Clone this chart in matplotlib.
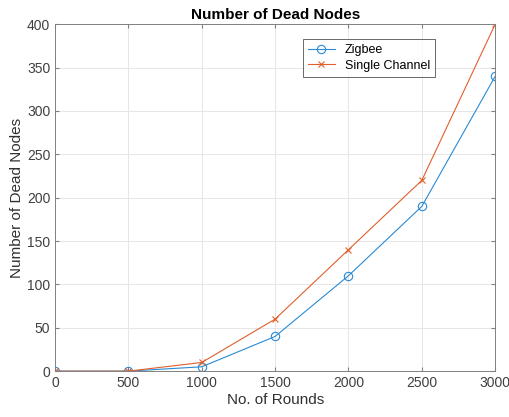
import matplotlib
matplotlib.use('Agg')
import matplotlib.pyplot as plt

rounds = [0, 500, 1000, 1500, 2000, 2500, 3000]
zigbee = [0, 0, 5, 40, 110, 190, 340]
single = [0, 0, 10, 60, 140, 220, 400]

plt.rcParams['font.family'] = ['Liberation Sans', 'DejaVu Sans']

fig = plt.figure(figsize=(5.1, 4.17), dpi=100)
ax = fig.add_axes([0.108, 0.110, 0.863, 0.832])

ax.plot(rounds, zigbee, color='#2a8ad4', lw=0.8, marker='o', ms=6,
        mfc='none', mec='#2a8ad4', mew=0.8, label='Zigbee')
ax.plot(rounds, single, color='#e0602c', lw=0.8, marker='x', ms=5,
        mew=0.8, label='Single Channel')

ax.set_xlim(0, 3000)
ax.set_ylim(0, 400)
ax.set_xticks(rounds)
ax.set_yticks(range(0, 401, 50))
ax.grid(True, color='#e6e6e6', lw=0.7)
ax.set_axisbelow(True)
ax.tick_params(direction='in', labelsize=10, colors='#808080', labelcolor='#404040',
               length=3, top=True, right=True, labeltop=False, labelright=False)
for s in ax.spines.values():
    s.set_color('#808080')
    s.set_linewidth(0.7)

ax.set_xlabel('No. of Rounds', fontsize=11, color='#303030', labelpad=2)
ax.set_ylabel('Number of Dead Nodes', fontsize=11, color='#303030', labelpad=2)
ax.set_title('Number of Dead Nodes', fontsize=11, fontweight='bold', pad=4)

leg = ax.legend(loc='upper left', bbox_to_anchor=(0.548, 0.975), fontsize=9,
                frameon=True, fancybox=False, edgecolor='#262626',
                borderpad=0.4, handlelength=2.2, labelspacing=0.3)
leg.get_frame().set_linewidth(0.6)

fig.savefig('out.png', dpi=100, facecolor='white')
